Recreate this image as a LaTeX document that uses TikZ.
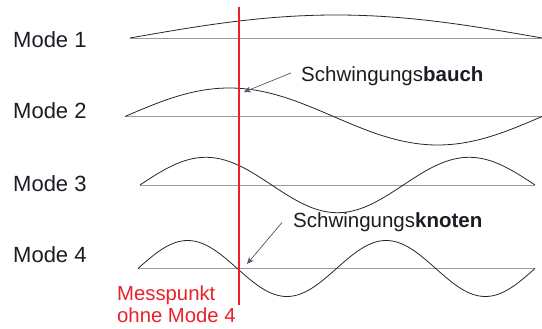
\documentclass[tikz,border=0pt]{standalone}
\usepackage{fontspec}
\setmainfont{Liberation Sans}
\usetikzlibrary{arrows.meta}
\definecolor{txt}{HTML}{1C1C24}
\definecolor{redl}{HTML}{E8212B}
\definecolor{arr}{HTML}{4A5870}
\definecolor{base}{HTML}{9A9A9A}
\tikzset{
  modelabel/.style={anchor=base west,inner sep=0pt,text=txt,font=\fontsize{22}{26}\selectfont},
  annot/.style={anchor=base west,inner sep=0pt,text=txt,font=\fontsize{20.5}{24}\selectfont},
  redtext/.style={anchor=base west,inner sep=0pt,text=redl,align=left,font=\fontsize{20.3}{23}\selectfont},
  wave/.style={line width=0.8pt,black!85},
  baseln/.style={line width=0.6pt,base},
  pointer/.style={line width=0.7pt,arr,-{Stealth[length=7pt,width=6pt]}},
}
\begin{document}
\begin{tikzpicture}[x=1pt,y=-1pt]
\useasboundingbox (0,0) rectangle (542,329);
% labels
\node[modelabel] (m1) at (13,48) {Mode 1};
\node[modelabel] (m2) at (13,119) {Mode 2};
\node[modelabel] (m3) at (13,192) {Mode 3};
\node[modelabel] (m4) at (13,262) {Mode 4};
% baselines
\draw[baseln] (130,38) -- (542,38);
\draw[baseln] (125,116.5) -- (542,116.5);
\draw[baseln] (140,185) -- (535,185);
\draw[baseln] (138,268.5) -- (535,268.5);
% waves
\draw[wave] plot[domain=130:542,samples=120,smooth] (\x,{38-23*sin(0.436893*(\x-130))});
\draw[wave] plot[domain=125:542,samples=150,smooth] (\x,{116.5-28.5*sin(0.863309*(\x-125))});
\draw[wave] plot[domain=140:535,samples=160,smooth] (\x,{185-27.7*sin(1.367089*(\x-140))});
\draw[wave] plot[domain=138:535,samples=200,smooth] (\x,{268.5-28*sin(1.813602*(\x-138))});
% red measuring line
\coordinate (rtop) at (239,7);
\coordinate (rbot) at (239,305);
\draw[redl,line width=1.5pt] (rtop) -- (rbot);
% annotations
\node[annot] (bauch) at (301,82) {Schwingungs\textbf{bauch}};
\node[annot] (knoten) at (293,228) {Schwingungs\textbf{knoten}};
\coordinate (a1s) at (291,73);
\coordinate (a1e) at (244,92);
\coordinate (a2s) at (282,222.5);
\coordinate (a2e) at (247,264);
\draw[pointer] (a1s) -- (a1e);
\draw[pointer] (a2s) -- (a2e);
\node[redtext] (mess) at (117,323) {Messpunkt\\ohne Mode 4};
\end{tikzpicture}
\end{document}
